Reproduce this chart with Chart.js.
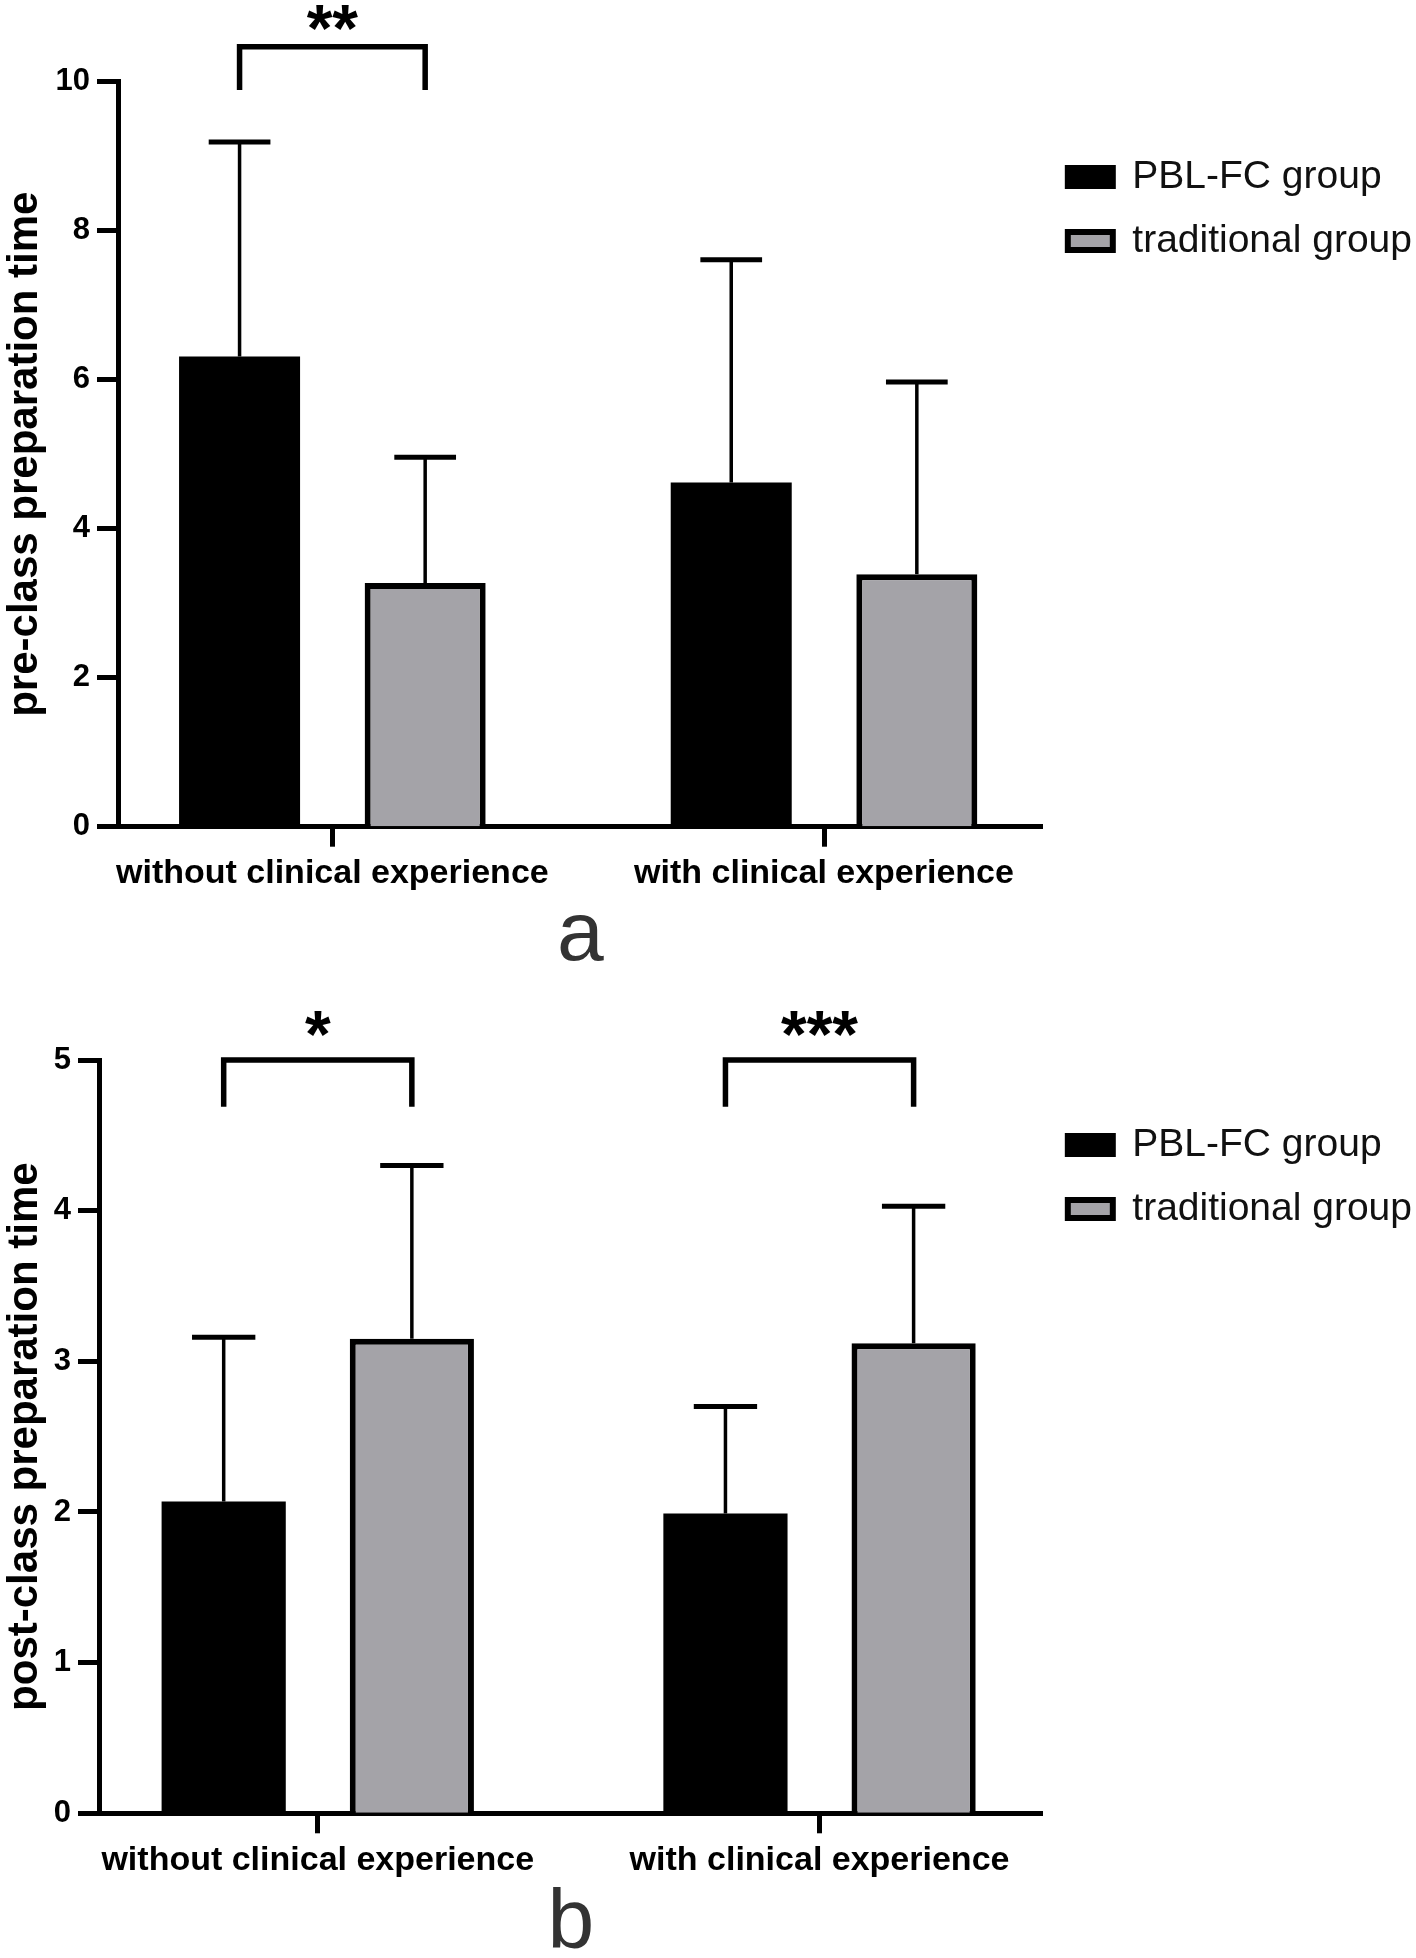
<!DOCTYPE html>
<html>
<head>
<meta charset="utf-8">
<title>Pre-class and post-class preparation time</title>
<script src="https://cdn.jsdelivr.net/npm/chart.js@4.4.1/dist/chart.umd.min.js"></script>
<style>
    html, body { margin: 0; padding: 0; background: #fff; }
    #wrap { width: 1416px; height: 1958px; }
    canvas { display: block; }
</style>
</head>
<body>
<div id="wrap">
    <canvas id="chartA" width="1416" height="980"></canvas>
    <canvas id="chartB" width="1416" height="978"></canvas>
</div>
<script>
// Data (mean, SD shown as upper error bar)
const categories = ['without clinical experience', 'with clinical experience'];
const seriesNames = ['PBL-FC group', 'traditional group'];

// a: pre-class preparation time
const preTicks = [0, 2, 4, 6, 8, 10];
const prePblMean = [6.31, 4.62];
const prePblSd = [2.88, 2.99];
const preTradMean = [3.27, 3.39];
const preTradSd = [1.69, 2.58];
const preSig = ['**', ''];

// b: post-class preparation time
const postTicks = [0, 1, 2, 3, 4, 5];
const postPblMean = [2.07, 1.99];
const postPblSd = [1.09, 0.71];
const postTradMean = [3.15, 3.12];
const postTradSd = [1.15, 0.91];
const postSig = ['*', '***'];

const FONT = "'Liberation Sans', Arial, Helvetica, sans-serif";
Chart.defaults.font.family = FONT;
Chart.defaults.color = '#000';

// upward-only error bars (mean + SD)
const errorBars = {
    id: 'errorBars',
    afterDatasetsDraw(chart, args, opts) {
        const ctx = chart.ctx;
        const yScale = chart.scales.y;
        chart.data.datasets.forEach((ds, di) => {
            chart.getDatasetMeta(di).data.forEach((bar, i) => {
                const top = yScale.getPixelForValue(ds.data[i].y + ds.sd[i]);
                const half = bar.width * opts.capRatio / 2;
                ctx.save();
                ctx.strokeStyle = '#000';
                ctx.lineWidth = opts.stemWidth;
                ctx.beginPath();
                ctx.moveTo(bar.x, bar.y);
                ctx.lineTo(bar.x, top);
                ctx.stroke();
                ctx.lineWidth = opts.capWidth;
                ctx.beginPath();
                ctx.moveTo(bar.x - half, top);
                ctx.lineTo(bar.x + half, top);
                ctx.stroke();
                ctx.restore();
            });
        });
    }
};

// significance brackets with stars
const sigBrackets = {
    id: 'sigBrackets',
    afterDraw(chart, args, opts) {
        const ctx = chart.ctx;
        const yScale = chart.scales.y;
        const left = chart.getDatasetMeta(0).data;
        const right = chart.getDatasetMeta(1).data;
        opts.labels.forEach((text, i) => {
            if (!text) return;
            const x1 = left[i].x, x2 = right[i].x;
            const yLine = yScale.getPixelForValue(opts.lineAt);
            const yLeg = yScale.getPixelForValue(opts.legAt);
            const yText = yScale.getPixelForValue(opts.textAt);
            ctx.save();
            ctx.strokeStyle = '#000';
            ctx.lineWidth = opts.lineWidth;
            ctx.lineJoin = 'miter';
            ctx.beginPath();
            ctx.moveTo(x1, yLeg);
            ctx.lineTo(x1, yLine);
            ctx.lineTo(x2, yLine);
            ctx.lineTo(x2, yLeg);
            ctx.stroke();
            ctx.font = 'bold 66px ' + FONT;
            ctx.fillStyle = '#000';
            ctx.textAlign = 'center';
            ctx.textBaseline = 'alphabetic';
            const m = ctx.measureText(text);
            ctx.fillText(text, (x1 + x2) / 2, yText + (m.actualBoundingBoxAscent - m.actualBoundingBoxDescent) / 2);
            ctx.restore();
        });
    }
};

// legend boxes all get the 6px black outline of the bars
function legendLabels(chart) {
    return Chart.defaults.plugins.legend.labels.generateLabels(chart)
        .map(item => Object.assign(item, { lineWidth: 6, strokeStyle: '#000' }));
}

function makeChart(id, cfg) {
    return new Chart(document.getElementById(id), {
        type: 'bar',
        data: {
            datasets: [{
                label: seriesNames[0],
                data: cfg.pbl.map((v, i) => ({ x: i, y: v })),
                sd: cfg.pblSd,
                backgroundColor: '#000',
                borderWidth: 0,
                categoryPercentage: cfg.catPct,
                barPercentage: cfg.barPct
            }, {
                label: seriesNames[1],
                data: cfg.trad.map((v, i) => ({ x: i, y: v })),
                sd: cfg.tradSd,
                backgroundColor: '#a4a3a8',
                borderColor: '#000',
                borderWidth: 6,
                categoryPercentage: cfg.catPct,
                barPercentage: cfg.barPct
            }]
        },
        options: {
            responsive: false,
            animation: false,
            events: [],
            layout: { padding: { top: cfg.padTop, left: 0, right: -6, bottom: cfg.padBottom } },
            scales: {
                x: {
                    type: 'linear',
                    offset: false,
                    min: -0.436,
                    max: 1.445,
                    afterBuildTicks: s => { s.ticks = categories.map((c, i) => ({ value: i })); },
                    afterFit: s => { s.height = 72; },
                    ticks: {
                        callback: v => categories[v],
                        font: { size: 34, weight: 'bold' },
                        color: '#000',
                        padding: 7,
                        maxRotation: 0,
                        autoSkip: false
                    },
                    grid: { offset: false, drawOnChartArea: false, drawTicks: true, tickLength: 20, tickWidth: 5, color: '#000' },
                    border: { display: true, width: 5, color: '#000' }
                },
                y: {
                    min: cfg.ticks[0],
                    max: cfg.ticks[cfg.ticks.length - 1],
                    afterBuildTicks: s => { s.ticks = cfg.ticks.map(v => ({ value: v })); },
                    afterFit: s => { s.width = cfg.axisX; },
                    ticks: { font: { size: 31, weight: 'bold' }, color: '#000', padding: 7 },
                    grid: { drawOnChartArea: false, drawTicks: true, tickLength: 21, tickWidth: 5, color: '#000' },
                    border: { display: true, width: 5, color: '#000' },
                    title: {
                        display: true,
                        text: cfg.yTitle,
                        font: { size: 42, weight: 'bold' },
                        color: '#000',
                        padding: 0
                    }
                }
            },
            plugins: {
                legend: {
                    position: 'right',
                    align: 'start',
                    maxWidth: 420,
                    title: { display: true, text: ' ', font: { size: 10, lineHeight: 1 }, padding: { top: cfg.legendGap, bottom: 0 } },
                    labels: {
                        boxWidth: 45, boxHeight: 18, padding: 25,
                        font: { size: 39 }, color: '#111',
                        generateLabels: legendLabels
                    }
                },
                title: {
                    display: true,
                    text: cfg.letter,
                    position: 'bottom',
                    fullSize: false,
                    font: { size: 84, weight: 'normal', lineHeight: 0.8 },
                    color: '#333',
                    padding: { top: cfg.letterPad, bottom: 0 }
                },
                tooltip: { enabled: false },
                errorBars: { capRatio: 0.51, stemWidth: 3.5, capWidth: 5 },
                sigBrackets: { labels: cfg.sig, lineAt: cfg.sigLine, legAt: cfg.sigLeg, textAt: cfg.sigText, lineWidth: 5.5 }
            }
        },
        plugins: [errorBars, sigBrackets]
    });
}

makeChart('chartA', {
    pbl: prePblMean, pblSd: prePblSd, trad: preTradMean, tradSd: preTradSd,
    ticks: preTicks, sig: preSig, sigLine: 10.47, sigLeg: 9.89, sigText: 10.86,
    yTitle: 'pre-class preparation time', letter: 'a',
    axisX: 118, padTop: 81.7, padBottom: 9.4, letterPad: 4.7, legendGap: 40.8,
    catPct: 0.755, barPct: 0.652
});

makeChart('chartB', {
    pbl: postPblMean, pblSd: postPblSd, trad: postTradMean, tradSd: postTradSd,
    ticks: postTicks, sig: postSig, sigLine: 5.0, sigLeg: 4.69, sigText: 5.24,
    yTitle: 'post-class preparation time', letter: 'b',
    axisX: 99, padTop: 80, padBottom: 0, letterPad: 5.5, legendGap: 30.5,
    catPct: 0.75, barPct: 0.66
});
</script>
</body>
</html>
